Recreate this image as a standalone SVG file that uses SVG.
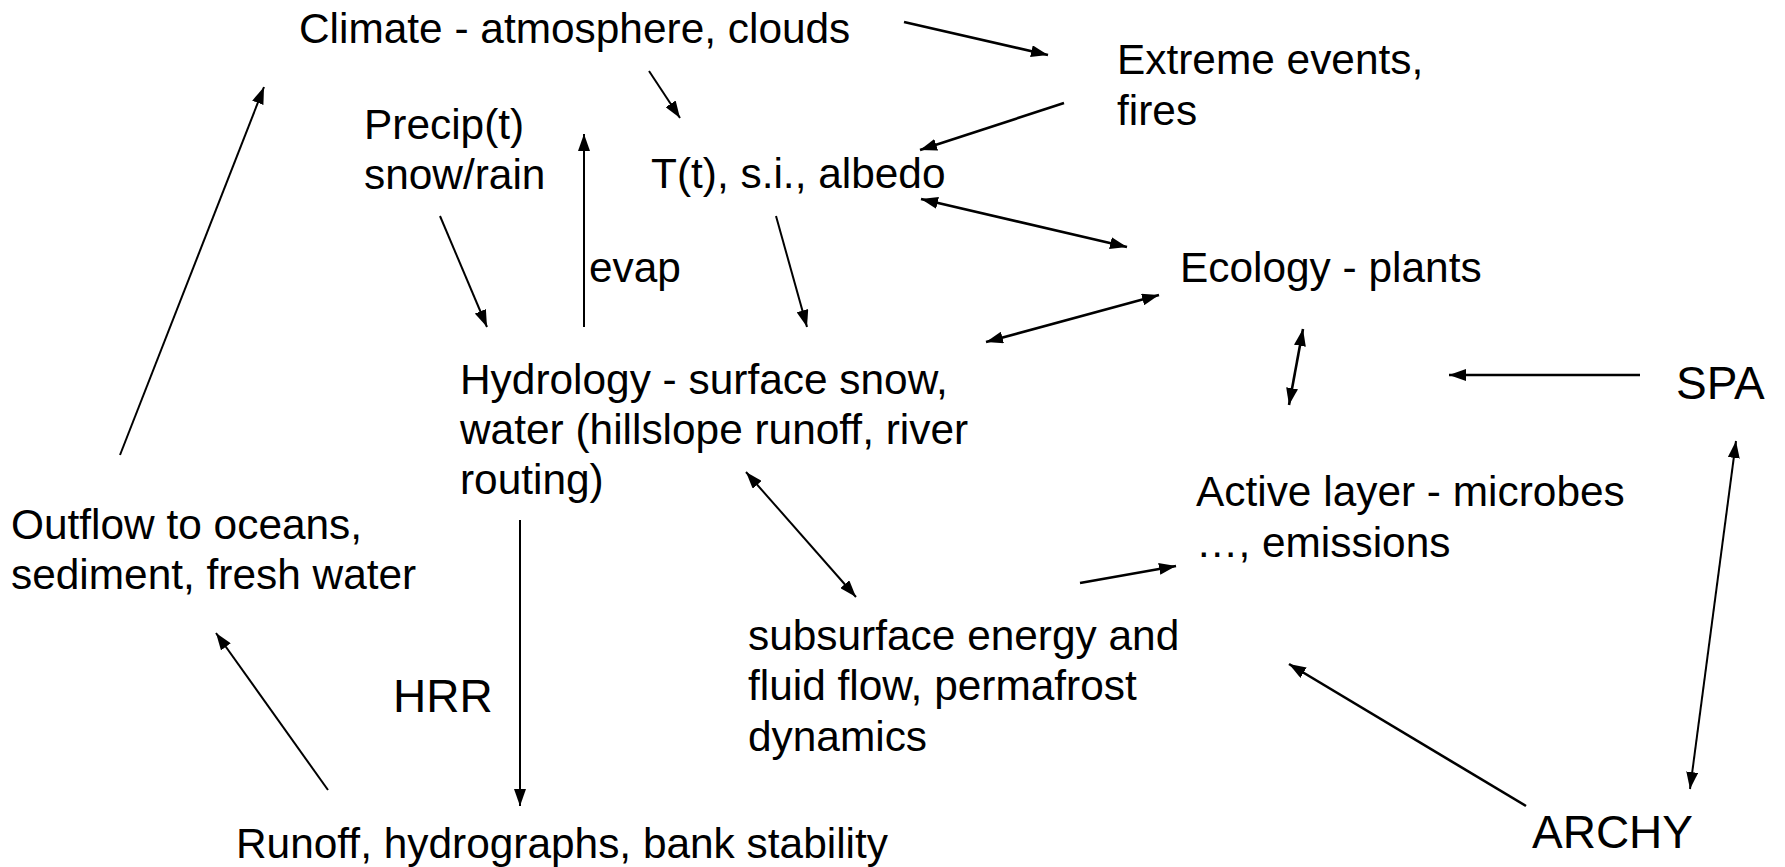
<svg xmlns="http://www.w3.org/2000/svg" width="1785" height="867" viewBox="0 0 1785 867">
<style>
text{font-family:"Liberation Sans",Arial,sans-serif;font-size:42.4px;fill:#000}
.big{font-size:46px}
.c line{stroke:#000;stroke-width:2;fill:none;marker-end:url(#ah)}
.c line.t{stroke-width:2.6}
.c line.d{marker-start:url(#ah)}
</style>
<defs>
<marker id="ah" viewBox="0 0 17 12" refX="17" refY="6" markerWidth="17" markerHeight="12" markerUnits="userSpaceOnUse" orient="auto-start-reverse">
<path d="M0,0 L17,6 L0,12 z" fill="#000"/>
</marker>
</defs>
<rect width="1785" height="867" fill="#fff"/>
<g id="climate"><text x="299" y="43">Climate - atmosphere, clouds</text></g>
<g id="extreme"><text x="1117" y="74">Extreme events,</text><text x="1117" y="125">fires</text></g>
<g id="precip"><text x="364" y="139">Precip(t)</text><text x="364" y="189">snow/rain</text></g>
<g id="temp"><text x="651" y="188">T(t), s.i., albedo</text></g>
<g id="evap"><text x="589" y="282">evap</text></g>
<g id="ecology"><text x="1180" y="282">Ecology - plants</text></g>
<g id="hydrology"><text x="460" y="394">Hydrology - surface snow,</text><text x="460" y="444">water (hillslope runoff, river</text><text x="460" y="494">routing)</text></g>
<g id="outflow"><text x="11" y="539">Outflow to oceans,</text><text x="11" y="589">sediment, fresh water</text></g>
<g id="active"><text x="1196" y="506">Active layer - microbes</text><text x="1196" y="557">…, emissions</text></g>
<g id="spa"><text class="big" x="1676" y="399">SPA</text></g>
<g id="subsurface"><text x="748" y="650">subsurface energy and</text><text x="748" y="700">fluid flow, permafrost</text><text x="748" y="751">dynamics</text></g>
<g id="hrr"><text class="big" x="393" y="712">HRR</text></g>
<g id="runoff"><text x="236" y="858">Runoff, hydrographs, bank stability</text></g>
<g id="archy"><text class="big" x="1532" y="848">ARCHY</text></g>
<g id="connectors" class="c">
<line class="t" x1="904" y1="22" x2="1048" y2="55"/>
<line class="t" x1="1064" y1="103" x2="920" y2="150"/>
<line x1="649" y1="71" x2="680" y2="118"/>
<line class="t d" x1="921" y1="199" x2="1127" y2="247"/>
<line x1="440" y1="216" x2="487" y2="327"/>
<line x1="584" y1="327" x2="584" y2="134"/>
<line x1="776" y1="216" x2="807" y2="327"/>
<line class="t d" x1="986" y1="342" x2="1159" y2="295"/>
<line class="t d" x1="1303" y1="329" x2="1289" y2="405"/>
<line class="t" x1="1640" y1="375" x2="1449" y2="375"/>
<line class="d" x1="1736" y1="441" x2="1690" y2="789"/>
<line class="t" x1="1526" y1="806" x2="1289" y2="664"/>
<line class="t" x1="1080" y1="583" x2="1176" y2="566"/>
<line class="d" x1="746" y1="472" x2="856" y2="597"/>
<line x1="520" y1="520" x2="520" y2="806"/>
<line x1="328" y1="790" x2="216" y2="633"/>
<line x1="120" y1="455" x2="264" y2="87"/>
</g>
</svg>
